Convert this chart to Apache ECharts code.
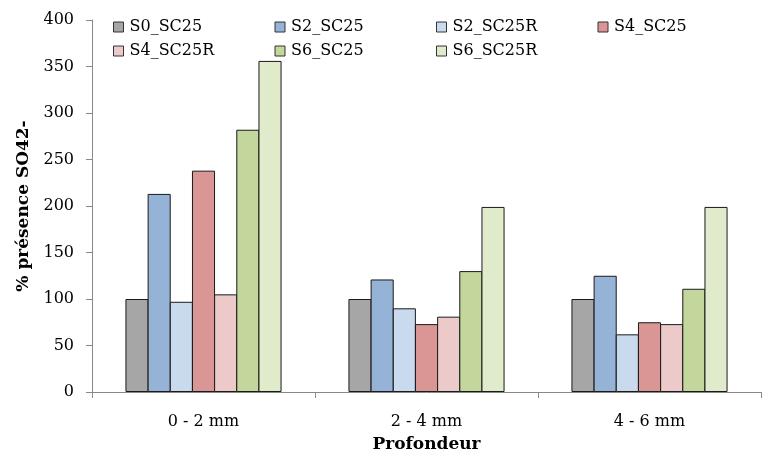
<!DOCTYPE html>
<html>
<head>
<meta charset="utf-8">
<script src="https://cdn.jsdelivr.net/npm/echarts@6/dist/echarts.min.js"></script>
<style>html,body{margin:0;padding:0;background:#fff;}#c{width:763px;height:454px;}</style>
</head>
<body>
<div id="c"></div>
<script>
const categories = ['0 - 2 mm', '2 - 4 mm', '4 - 6 mm'];
const seriesNames = ['S0_SC25', 'S2_SC25', 'S2_SC25R', 'S4_SC25', 'S4_SC25R', 'S6_SC25', 'S6_SC25R'];
const S0_SC25 = [100, 100, 100];
const S2_SC25 = [213, 121, 125];
const S2_SC25R = [97, 90, 62];
const S4_SC25 = [238, 73, 75];
const S4_SC25R = [105, 81, 73];
const S6_SC25 = [282, 130, 111];
const S6_SC25R = [356, 199, 199];
const seriesValues = [S0_SC25, S2_SC25, S2_SC25R, S4_SC25, S4_SC25R, S6_SC25, S6_SC25R];
const colors = ['#A6A6A6', '#95B3D7', '#C9D9EE', '#D99694', '#ECCACA', '#C3D69B', '#E0EBCB'];
const yTicks = { min: 0, max: 400, interval: 50 };

const font = 'DejaVu Serif';
const chart = echarts.init(document.getElementById('c'));
chart.setOption({
  animation: false,
  grid: { left: 92, right: 2, top: 20, bottom: 62, containLabel: false, outerBoundsMode: 'none' },
  legend: {
    left: 113, top: 15, width: 650, padding: 0,
    itemWidth: 10, itemHeight: 10, itemGap: 0,
    icon: 'rect',
    data: seriesNames,
    itemStyle: { borderColor: '#333', borderWidth: 1 },
    textStyle: { fontFamily: font, fontSize: 16, color: '#000', width: 145, lineHeight: 24, padding: [0, 0, 0, 1] }
  },
  xAxis: {
    type: 'category',
    data: categories,
    name: 'Profondeur',
    nameLocation: 'middle',
    nameGap: 44,
    nameTextStyle: { fontFamily: font, fontSize: 17, fontWeight: 'bold', color: '#000' },
    axisLine: { lineStyle: { color: '#888', width: 1 } },
    axisTick: { show: true, length: 6, lineStyle: { color: '#888' } },
    axisLabel: { fontFamily: font, fontSize: 16, color: '#000', margin: 22 }
  },
  yAxis: {
    type: 'value',
    min: yTicks.min, max: yTicks.max, interval: yTicks.interval,
    name: '% présence SO42-',
    nameLocation: 'middle',
    nameGap: 60,
    nameTextStyle: { fontFamily: font, fontSize: 17, fontWeight: 'bold', color: '#000' },
    axisLine: { show: true, lineStyle: { color: '#888', width: 1 } },
    axisTick: { show: true, length: 6, lineStyle: { color: '#888' } },
    splitLine: { show: false },
    axisLabel: { fontFamily: font, fontSize: 16, color: '#000', margin: 18 }
  },
  series: seriesNames.map((n, i) => ({
    name: n,
    type: 'bar',
    data: seriesValues[i],
    barGap: '-4%',
    barCategoryGap: '30%',
    itemStyle: { color: colors[i], borderColor: '#1a1a1a', borderWidth: 1 }
  }))
});
</script>
</body>
</html>
